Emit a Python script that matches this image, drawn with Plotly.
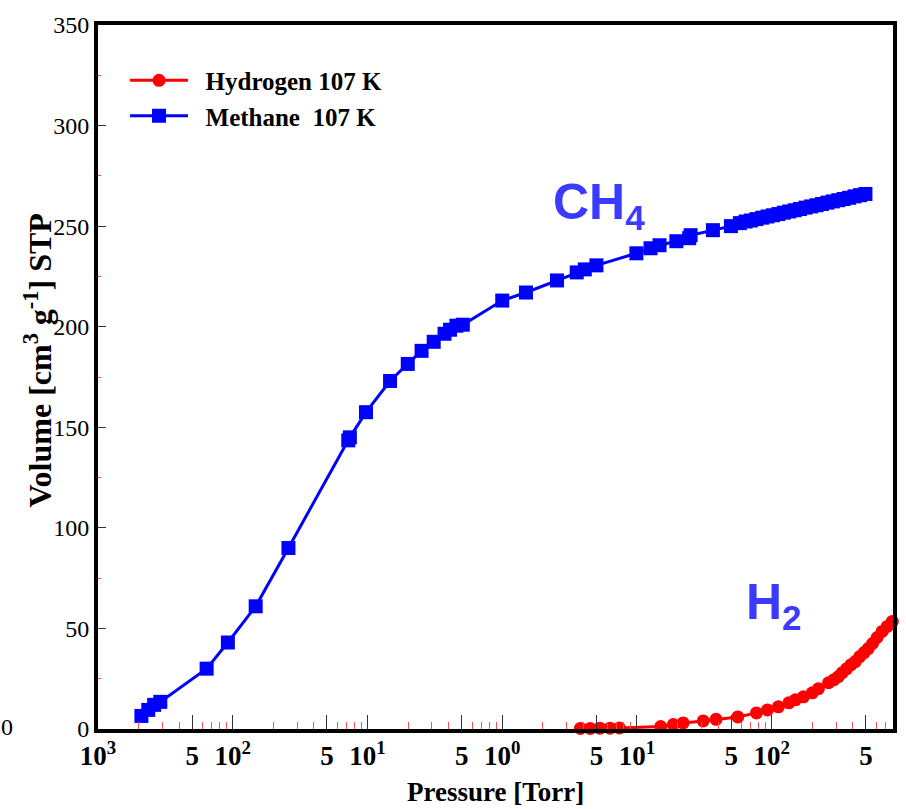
import plotly.graph_objects as go

# Methane adsorption isotherm at 107 K
ch4_pressure = [0.0021, 0.00236, 0.00261, 0.0029, 0.0064, 0.0092, 0.0148, 0.0259,
                0.072, 0.074, 0.0975, 0.147, 0.199, 0.252, 0.31, 0.373, 0.41, 0.457,
                0.51, 1.0, 1.5, 2.55, 3.57, 4.1, 5.0, 9.9, 12.6, 14.7, 19.6, 24.4,
                25.0, 36.6, 49.8, 58, 64, 70, 77, 85, 93, 102, 112, 123, 135, 148,
                162, 178, 196, 215, 236, 259, 284, 312, 342, 375, 412, 452, 496]
ch4_volume = [6.5, 9.5, 12, 13.5, 30, 43, 61, 90,
              143.5, 145, 157.5, 173, 181.5, 188, 192.5, 196.5, 198.5, 200.5,
              201, 213, 217, 223, 227, 228.5, 230.5, 236.5, 239, 240.5, 242.5, 244,
              245.5, 248, 250, 251.5, 252.3, 252.8, 253.5, 254.2, 254.8, 255.4, 256.0,
              256.7, 257.3, 257.9, 258.5, 259.2, 259.8, 260.4, 261.0, 261.7, 262.3,
              262.9, 263.5, 264.1, 264.8, 265.4, 266.0]

# Hydrogen adsorption isotherm at 107 K
h2_pressure = [3.8, 4.5, 5.3, 6.3, 7.4, 15, 18.6, 22, 31, 38.6, 56, 77, 93, 112, 134,
               150, 172, 200, 222, 264, 290, 312, 334, 360, 388, 417, 450, 485, 520,
               560, 605, 660, 720, 785]
h2_volume = [0.3, 0.3, 0.4, 0.4, 0.5, 1.2, 2.2, 3, 4, 4.8, 6, 8, 9.5, 11, 13,
             14.5, 16, 18, 20, 23, 24.5, 26, 28, 30, 32, 33.5, 36, 38, 40,
             42.5, 45.5, 48.5, 51, 53.5]

# Axis ticks
x_major_vals = [0.001, 0.005, 0.01, 0.05, 0.1, 0.5, 1, 5, 10, 50, 100, 500]
x_major_text = ["10<sup>3</sup>", "5", "10<sup>2</sup>", "5", "10<sup>1</sup>", "5",
                "10<sup>0</sup>", "5", "10<sup>1</sup>", "5", "10<sup>2</sup>", "5"]
x_minor_vals = [m * d for d in (0.001, 0.01, 0.1, 1, 10, 100) for m in (2, 3, 4, 6, 7, 8, 9)]
y_major_vals = [0, 50, 100, 150, 200, 250, 300, 350]
y_minor_vals = [25, 75, 125, 175, 225, 275, 325]

SERIF = "Liberation Serif, Times New Roman, serif"
SANS = "Liberation Sans, Arial, sans-serif"
LABEL_BLUE = "#3b3bff"

fig = go.Figure()
fig.add_trace(go.Scatter(
    x=h2_pressure, y=h2_volume, mode="lines+markers",
    name="<b>&nbsp;&nbsp;Hydrogen 107 K</b>",
    line=dict(color="#ff0000", width=3),
    marker=dict(symbol="circle", size=13, color="#ff0000"),
    cliponaxis=False,
))
fig.add_trace(go.Scatter(
    x=ch4_pressure, y=ch4_volume, mode="lines+markers",
    name="<b>&nbsp;&nbsp;Methane&nbsp; 107 K</b>",
    line=dict(color="#0000ff", width=3),
    marker=dict(symbol="square", size=14, color="#0000ff"),
    cliponaxis=False,
))

fig.update_layout(
    width=906, height=809,
    margin=dict(l=98, r=9, t=25, b=80),
    paper_bgcolor="white", plot_bgcolor="white",
    showlegend=True,
    legend=dict(x=0.034, y=0.9537, xanchor="left", yanchor="top",
                bgcolor="rgba(0,0,0,0)", itemwidth=58,
                font=dict(family=SERIF, size=25, color="black")),
    xaxis=dict(
        type="log", range=[-3, 2.9],
        showline=True, linecolor="black", linewidth=4, mirror=True,
        showgrid=False, zeroline=False,
        tickmode="array", tickvals=x_major_vals, ticktext=x_major_text,
        ticks="inside", ticklen=14, tickwidth=1.2, tickcolor="#333",
        tickfont=dict(family=SERIF, size=27, color="black", weight="bold"),
        minor=dict(tickmode="array", tickvals=x_minor_vals, ticks="inside",
                   ticklen=7, tickwidth=1.2, tickcolor="#ff5050"),
    ),
    yaxis=dict(
        range=[0, 350],
        showline=True, linecolor="black", linewidth=4, mirror=True,
        showgrid=False, zeroline=False,
        tickmode="array", tickvals=y_major_vals,
        ticks="inside", ticklen=8, tickwidth=1.2, tickcolor="#333",
        tickfont=dict(family=SERIF, size=24, color="black"),
        minor=dict(tickmode="array", tickvals=y_minor_vals, ticks="inside",
                   ticklen=3, tickwidth=1.2, tickcolor="#ff5050"),
    ),
    annotations=[
        dict(text="<b>Pressure [Torr]</b>", xref="paper", yref="paper",
             x=0.5, y=-0.09, xanchor="center", yanchor="middle", showarrow=False,
             font=dict(family=SERIF, size=27, color="black")),
        dict(text="<b>Volume [cm<sup>3</sup> g<sup>-1</sup>] STP</b>", xref="paper",
             yref="paper", x=(38 - 98.5) / 798.5, y=0.523, xanchor="center",
             yanchor="middle", textangle=-90, showarrow=False,
             font=dict(family=SERIF, size=32, color="black")),
        dict(text="<b>CH<sub>4</sub></b>", xref="paper", yref="paper",
             x=(602 - 98.5) / 798.5, y=(729 - 205) / 704, xanchor="center",
             yanchor="middle", showarrow=False,
             font=dict(family=SANS, size=50, color=LABEL_BLUE)),
        dict(text="<b>H<sub>2</sub></b>", xref="paper", yref="paper",
             x=(777 - 98.5) / 798.5, y=(729 - 605) / 704, xanchor="center",
             yanchor="middle", showarrow=False,
             font=dict(family=SANS, size=50, color=LABEL_BLUE)),
        dict(text="0", xref="paper", yref="paper",
             x=(7 - 98.5) / 798.5, y=(729 - 727) / 704, xanchor="center",
             yanchor="middle", showarrow=False,
             font=dict(family=SERIF, size=24, color="black")),
    ],
)

fig.write_html("out.html")
